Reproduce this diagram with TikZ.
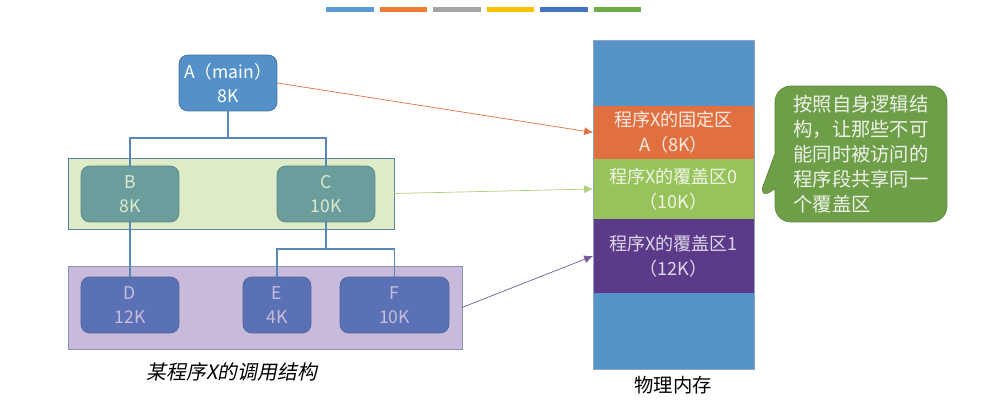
\documentclass[tikz,border=0pt]{standalone}
\usepackage{fontspec}
\setmainfont{Noto Sans CJK SC}
\newfontfamily\slantfont[FakeSlant=0.2]{Noto Sans CJK SC}
\usepackage{tikz}
\usetikzlibrary{arrows.meta,positioning,shapes.callouts}
\definecolor{barBlue}{HTML}{5B9BD5}
\definecolor{barOrange}{HTML}{ED7D31}
\definecolor{barGray}{HTML}{A5A5A5}
\definecolor{barYellow}{HTML}{FFC000}
\definecolor{barNavy}{HTML}{4472C4}
\definecolor{barGreen}{HTML}{70AD47}
\definecolor{aFill}{HTML}{5591C8}
\definecolor{aBorder}{HTML}{41719C}
\definecolor{bFill}{HTML}{6A9D9B}
\definecolor{bText}{HTML}{DDEBCF}
\definecolor{dFill}{HTML}{5A72B5}
\definecolor{dText}{HTML}{C9BCDC}
\definecolor{grnGroup}{HTML}{DDEBC8}
\definecolor{purGroup}{HTML}{C8BADB}
\definecolor{grpBorder}{HTML}{5B7FA5}
\definecolor{treeLine}{HTML}{5B87B5}
\definecolor{memBlue}{HTML}{5593C9}
\definecolor{memOrange}{HTML}{E07040}
\definecolor{memGreen}{HTML}{98C25A}
\definecolor{memPurple}{HTML}{5B3A8A}
\definecolor{calloutFill}{HTML}{6E9E48}
\definecolor{calloutBorder}{HTML}{5A8A3A}

\begin{document}
\begin{tikzpicture}[
  x=0.02cm, y=-0.02cm,
  mod/.style={rounded corners=5pt, minimum width=1.96cm, minimum height=1.12cm,
              align=center, inner sep=0pt, font=\fontsize{10}{14}\selectfont},
  modA/.style={mod, draw=aBorder, fill=aFill, text=white},
  modB/.style={mod, draw=bFill!85!black, fill=bFill, text=bText},
  modD/.style={mod, draw=dFill!85!black, fill=dFill, text=dText},
  grp/.style={draw=grpBorder, inner sep=0pt, outer sep=0pt},
  mem/.style={minimum width=3.22cm, inner sep=0pt, outer sep=0pt, align=center,
              font=\fontsize{10.3}{14}\selectfont},
  tree/.style={draw=treeLine, semithick},
  arr/.style={-{Latex[length=5pt,width=4.5pt]}, thin},
  tip/.style={rectangle callout, rounded corners=9pt, draw=calloutBorder,
              fill=calloutFill, text=white!88!calloutFill, align=left,
              minimum width=3.44cm, minimum height=2.72cm, inner sep=0pt,
              callout pointer width=0.7cm,
              font=\fontsize{11}{14.2}\selectfont}
]
\useasboundingbox (0,0) rectangle (984,416);
% colour bars on top
\foreach \c [count=\i from 0] in {barBlue,barOrange,barGray,barYellow,barNavy,barGreen}
  \fill[\c] (326+53.5*\i,7) rectangle ++(47.5,5);
% call structure of program X
\node[grp, fill=grnGroup, minimum width=6.52cm, minimum height=1.42cm] (grpBC) at (231,193.5) {};
\node[grp, fill=purGroup, draw=grpBorder!60!purGroup, minimum width=7.88cm, minimum height=1.66cm] (grpDEF) at (265,307.5) {};
\node[modA] (A) at (228,83)  {A（main）\\8K};
\node[modB] (B) at (130,194) {B\\8K};
\node[modB] (C) at (326,194) {C\\10K};
\node[modD] (D) at (130,305) {D\\12K};
\node[modD, minimum width=1.36cm] (E) at (277,305) {E\\4K};
\node[modD, minimum width=2.18cm] (F) at (394.5,305) {F\\10K};
\coordinate (jA) at (228,138);
\coordinate (jC) at (326,249);
\draw[tree] (A) -- (jA);
\draw[tree] (B.north) |- (jA) -| (C.north);
\draw[tree] (B) -- (D);
\draw[tree] (C) -- (jC);
\draw[tree] (E.north) |- (jC) -| (F.north);
\node[font=\slantfont\fontsize{11.3}{14}\selectfont] (cap1) at (232,372) {某程序X的调用结构};
% physical memory
\node[mem, fill=memBlue, minimum height=1.32cm] (memtop) at (673.5,73) {};
\node[mem, fill=memOrange, minimum height=1.06cm, text=white!85!memOrange, below=0pt of memtop] (fixed) {程序X的固定区\\A（8K）};
\node[mem, fill=memGreen, minimum height=1.2cm, text=white!85!memGreen, below=0pt of fixed] (ov0) {程序X的覆盖区0\\（10K）};
\node[mem, fill=memPurple, minimum height=1.48cm, text=white!80!memPurple, below=0pt of ov0] (ov1) {程序X的覆盖区1\\（12K）};
\node[mem, fill=memBlue, minimum height=1.52cm, below=0pt of ov1] (membot) {};
\draw[grpBorder!70, thin] (memtop.north west) rectangle (membot.south east);
\node[font=\fontsize{11}{14}\selectfont] (cap2) at (673,385) {物理内存};
% arrows into memory
\draw[arr, memOrange] (A.east) -- (fixed.west);
\draw[arr, memGreen!80!white] (grpBC.east) -- (ov0.west);
\draw[arr, memPurple!85!white] (grpDEF.east) -- (ov1.west);
% remark
\node[tip, callout absolute pointer={(758,200)}] (note) at (861,154)
  {按照自身逻辑结\\构，让那些不可\\能同时被访问的\\程序段共享同一\\个覆盖区};
\end{tikzpicture}
\end{document}
